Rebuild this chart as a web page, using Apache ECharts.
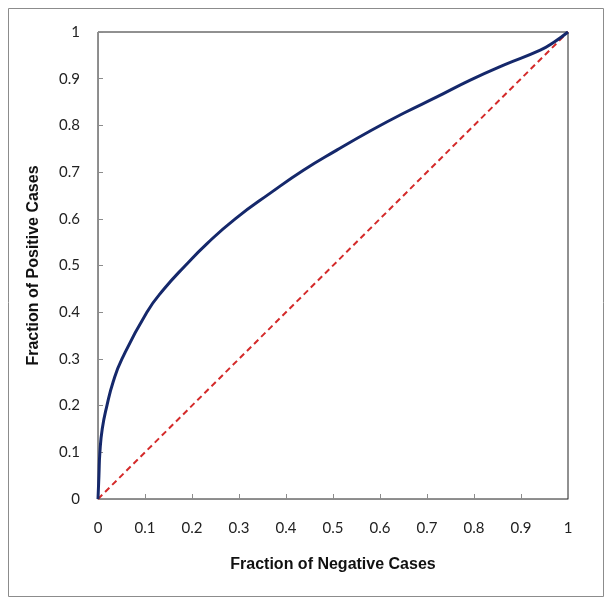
<!DOCTYPE html>
<html>
<head>
<meta charset="utf-8">
<script src="https://cdn.jsdelivr.net/npm/echarts@6/dist/echarts.min.js"></script>
<style>html,body{margin:0;padding:0;background:#fff;}#c{width:612px;height:607px;}</style>
</head>
<body>
<div id="c"></div>
<script>
const rocX = [0, 0.002, 0.004, 0.009, 0.019, 0.032, 0.051, 0.104, 0.14, 0.186, 0.232, 0.292, 0.368, 0.437, 0.508, 0.579, 0.65, 0.721, 0.792, 0.863, 0.941, 0.97, 1];
const rocY = [0, 0.05, 0.1, 0.15, 0.2, 0.25, 0.3, 0.4, 0.449, 0.5, 0.547, 0.6, 0.656, 0.704, 0.747, 0.788, 0.826, 0.861, 0.897, 0.929, 0.961, 0.978, 1];
const diagX = [0, 1];
const diagY = [0, 1];
const xTitle = 'Fraction of Negative Cases';
const yTitle = 'Fraction of Positive Cases';

const chart = echarts.init(document.getElementById('c'), null, {renderer: 'canvas'});
const tickFont = {fontFamily: 'Lato', fontSize: 15, color: '#222'};
chart.setOption({
  animation: false,
  backgroundColor: '#fff',
  graphic: [{
    type: 'rect', shape: {x: 8.5, y: 8.5, width: 595, height: 588},
    style: {fill: 'none', stroke: '#8c8c8c', lineWidth: 1}, z: -1
  }],
  grid: {left: 98, right: 44, top: 32, bottom: 108, show: true, borderColor: '#222', borderWidth: 1, backgroundColor: 'transparent'},
  xAxis: {
    type: 'value', min: 0, max: 1, interval: 0.1,
    name: xTitle, nameLocation: 'middle', nameGap: 58,
    nameTextStyle: {fontFamily: 'Liberation Sans', fontWeight: 'bold', fontSize: 16, color: '#111'},
    axisLine: {show: true, lineStyle: {color: '#8c8c8c', width: 1}},
    axisTick: {show: true, inside: true, length: 5, lineStyle: {color: '#8c8c8c'}},
    axisLabel: Object.assign({margin: 22, formatter: v => String(Math.round(v*10)/10)}, tickFont),
    splitLine: {show: false}
  },
  yAxis: {
    type: 'value', min: 0, max: 1, interval: 0.1,
    name: yTitle, nameLocation: 'middle', nameGap: 56, nameRotate: 90,
    nameTextStyle: {fontFamily: 'Liberation Sans', fontWeight: 'bold', fontSize: 16, color: '#111'},
    axisLine: {show: true, lineStyle: {color: '#8c8c8c', width: 1}},
    axisTick: {show: true, inside: true, length: 5, lineStyle: {color: '#8c8c8c'}},
    axisLabel: Object.assign({margin: 18, formatter: v => String(Math.round(v*10)/10)}, tickFont),
    splitLine: {show: false}
  },
  series: [
    {
      type: 'line', data: diagX.map((x, i) => [x, diagY[i]]),
      symbol: 'none', lineStyle: {color: '#d42a2a', width: 2, type: [6, 4]}, z: 2
    },
    {
      type: 'line', data: rocX.map((x, i) => [x, rocY[i]]),
      symbol: 'none', smooth: 0.5, lineStyle: {color: '#15286b', width: 3}, z: 3
    }
  ]
});
</script>
</body>
</html>
